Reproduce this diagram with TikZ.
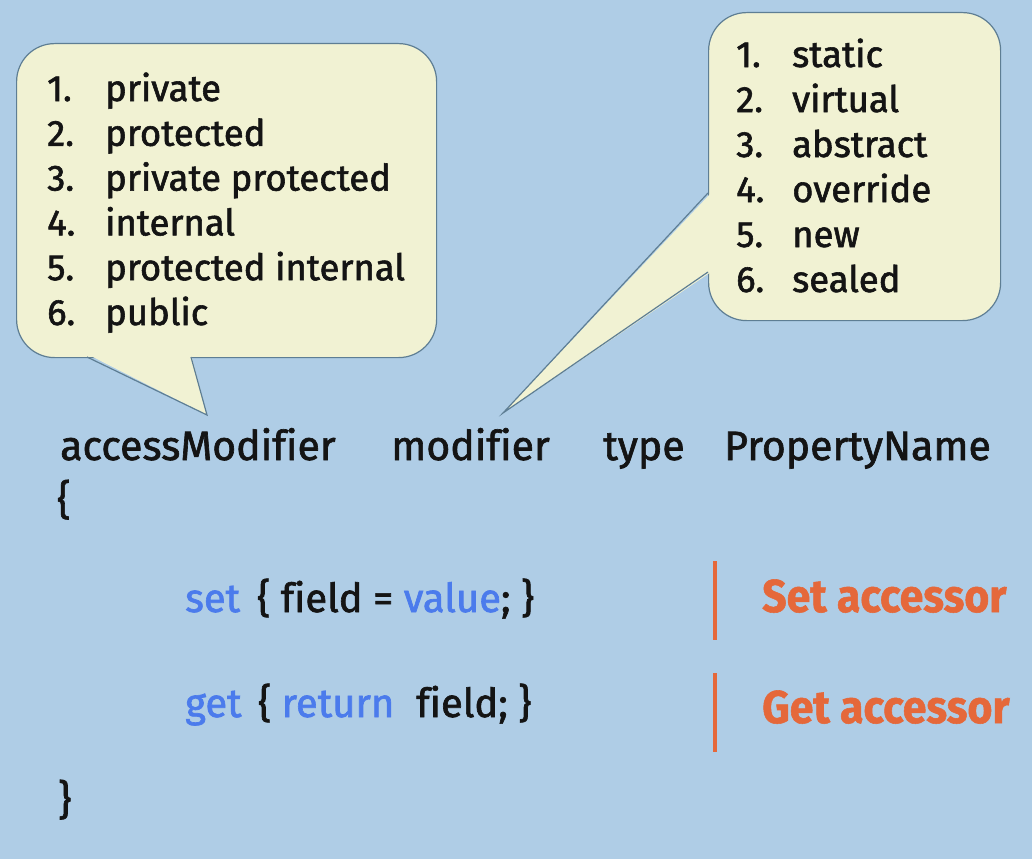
\documentclass[tikz,border=0pt]{standalone}
\usepackage{fontspec}
\setmainfont{Fira Sans}[Ligatures=NoCommon]
\newfontfamily\medfont{Fira Sans}[Ligatures=NoCommon, FakeBold=1.6]
\newfontfamily\tagfont{Fira Sans}[Ligatures=NoCommon, FakeStretch=0.93, FakeBold=1.2]
\usepackage{xcolor}
\usepackage{tikz}
\usetikzlibrary{calc}
\definecolor{bg}{HTML}{AFCDE6}
\definecolor{bfill}{HTML}{F1F2D3}
\definecolor{bedge}{HTML}{5E7E94}
\definecolor{ink}{HTML}{141414}
\definecolor{kw}{HTML}{4B7BEC}
\definecolor{accent}{HTML}{E5683A}
\tikzset{
  bubble/.style={draw=bedge, fill=bfill, line width=1.2pt, rounded corners=38pt,
    inner sep=0pt, anchor=north west},
  tailedge/.style={draw=bedge, line width=1.2pt, line join=miter},
  item/.style={text=ink, anchor=base west, inner sep=0pt, font=\medfont\fontsize{36.5}{40}\selectfont},
  code/.style={text=ink, anchor=base west, inner sep=0pt, font=\medfont\fontsize{41}{44}\selectfont},
  acc/.style={text=ink, anchor=base west, inner sep=0pt, font=\medfont\fontsize{40}{44}\selectfont},
  bar/.style={draw=accent, line width=4.5pt},
  tag/.style={text=accent, anchor=base west, inner sep=0pt, font=\tagfont\bfseries\fontsize{46}{50}\selectfont}
}

\begin{document}
\begin{tikzpicture}[x=1pt, y=-1pt]
  \useasboundingbox (0,0) rectangle (1032,859);
  \fill[bg] (0,0) rectangle (1032,859);

  % access modifier bubble
  \node[bubble, minimum width=420pt, minimum height=314pt] (accbox) at (16,43) {};
  \coordinate (accL) at (87,357);
  \coordinate (accR) at (191,357);
  \coordinate (accT) at (207,415);
  \fill[bfill] ($(accL)+(0,-3)$) -- (accT) -- ($(accR)+(0,-3)$) -- cycle;
  \draw[tailedge] (accL) -- (accT) -- (accR);
  \foreach \i/\w in {1/private, 2/protected, 3/private protected,
                     4/internal, 5/protected internal, 6/public} {
    \node[item] (accn\i) at (47,{101+44.8*(\i-1)}) {\i.};
    \node[item] (acc\i) at (105,{101+44.8*(\i-1)}) {\w};
  }

  % modifier bubble
  \node[bubble, minimum width=292pt, minimum height=308pt] (modbox) at (708,12) {};
  \coordinate (modL) at (708,193);
  \coordinate (modR) at (708,272);
  \coordinate (modT) at (503,413);
  \fill[bfill] ($(modL)+(3,0)$) -- (modT) -- ($(modR)+(3,0)$) -- cycle;
  \draw[tailedge] (modL) -- (modT) -- (modR);
  \foreach \i/\w in {1/static, 2/virtual, 3/abstract,
                     4/override, 5/new, 6/sealed} {
    \node[item] (modn\i) at (736,{67+45*(\i-1)}) {\i.};
    \node[item] (mod\i) at (792,{67+45*(\i-1)}) {\w};
  }

  % declaration
  \node[code] (access) at (60,460) {accessModifier};
  \node[code] (modif) at (391,460) {modifier};
  \node[code] (type) at (603,460) {type};
  \node[code] (pname) at (724,460) {PropertyName};
  \node[code] (open) at (57,514) {\{};
  \node[code] (close) at (58,814) {\}};

  % accessors
  \node[acc, text=kw] (set) at (185,612) {set};
  \node[acc] (setbody) at (257,612) {\{ field = \textcolor{kw}{value}; \}};
  \node[acc, text=kw] (get) at (185,717) {get};
  \node[acc] (getbody) at (258,717) {\{ \textcolor{kw}{return}\hspace{22pt}field; \}};

  \coordinate (bar1a) at (715,561);
  \coordinate (bar1b) at (715,640);
  \coordinate (bar2a) at (715,673);
  \coordinate (bar2b) at (715,752);
  \draw[bar] (bar1a) -- (bar1b);
  \draw[bar] (bar2a) -- (bar2b);
  \node[tag] (settag) at (762,612) {Set accessor};
  \node[tag] (gettag) at (762,723) {Get accessor};
\end{tikzpicture}
\end{document}
